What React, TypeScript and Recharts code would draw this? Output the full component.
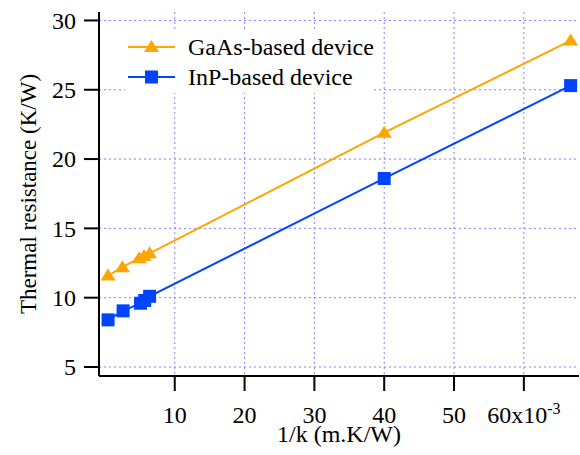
import React from 'react';
import { LineChart, Line, XAxis, YAxis, CartesianGrid, Legend } from 'recharts';

// x values are in units of 1e-3 m.K/W
const gaasX = [0.45, 2.5, 4.9, 5.6, 6.4, 40, 66.7];
const gaasY = [11.6, 12.2, 12.85, 13.0, 13.2, 21.9, 28.55];
const inpX = [0.45, 2.6, 5.1, 5.7, 6.4, 40, 66.7];
const inpY = [8.4, 9.05, 9.6, 9.8, 10.1, 18.6, 25.3];

const xTicks = [10, 20, 30, 40, 50, 60];
const yTicks = [5, 10, 15, 20, 25, 30];

const seriesNames = ['GaAs-based device', 'InP-based device'];
const ORANGE = '#ffa500';
const BLUE = '#0044ff';
const FONT = '"Liberation Serif", "Times New Roman", serif';

const gaas = gaasX.map((x, i) => ({ x, y: gaasY[i] }));
const inp = inpX.map((x, i) => ({ x, y: inpY[i] }));

const Triangle = (props: any) => {
  const { cx, cy } = props;
  if (cx == null || cy == null) return null;
  return <polygon points={`${cx},${cy - 7} ${cx + 7.5},${cy + 5} ${cx - 7.5},${cy + 5}`} fill={ORANGE} />;
};

const Square = (props: any) => {
  const { cx, cy } = props;
  if (cx == null || cy == null) return null;
  return <rect x={cx - 6.5} y={cy - 6.5} width={13} height={13} fill={BLUE} />;
};

const XTick = (props: any) => {
  const { x, y, payload } = props;
  const last = payload.value === 60;
  return (
    <text x={x} y={y} dy="0.71em" textAnchor="middle" fontSize={24} fontFamily={FONT} fill="#000">
      {last ? '60x10' : payload.value}
      {last && <tspan dy="-0.55em" fontSize={16}>-3</tspan>}
    </text>
  );
};

const YTick = (props: any) => {
  const { x, y, payload } = props;
  return (
    <text x={x} y={y} dy="0.35em" textAnchor="end" fontSize={24} fontFamily={FONT} fill="#000">
      {payload.value}
    </text>
  );
};

const YLabel = (props: any) => {
  const { viewBox } = props;
  const cx = viewBox.x + 28;
  const cy = viewBox.y + viewBox.height / 2;
  return (
    <text x={cx} y={cy} transform={`rotate(-90, ${cx}, ${cy})`} textAnchor="middle" dominantBaseline="central"
      fontSize={23} fontFamily={FONT} fill="#000">
      Thermal resistance (K/W)
    </text>
  );
};

const XLabel = (props: any) => {
  const { viewBox } = props;
  const cx = viewBox.x + viewBox.width / 2;
  return (
    <text x={cx} y={viewBox.y + 66} textAnchor="middle" fontSize={24} fontFamily={FONT} fill="#000">
      1/k (m.K/W)
    </text>
  );
};

const LegendBox = () => (
  <div style={{ background: '#fff', width: 248, height: 61, fontFamily: FONT, fontSize: 24, color: '#000' }}>
    {seriesNames.map((name, i) => (
      <div key={name} style={{ display: 'flex', alignItems: 'center', height: 30, marginTop: i === 0 ? 1 : 0 }}>
        <svg width={60} height={20} style={{ marginLeft: 3, flex: 'none' }}>
          <line x1={0} y1={10} x2={47} y2={10} stroke={i === 0 ? ORANGE : BLUE} strokeWidth={2} />
          {i === 0 ? (
            <polygon points="23.5,3 31,15 16,15" fill={ORANGE} />
          ) : (
            <rect x={17} y={3.5} width={13} height={13} fill={BLUE} />
          )}
        </svg>
        <span style={{ lineHeight: '30px', whiteSpace: 'nowrap' }}>{name}</span>
      </div>
    ))}
  </div>
);

export default function App() {
  return (
    <div style={{ position: 'absolute', left: 0, top: 0, width: 580, height: 455, background: '#fff' }}>
      <LineChart width={580} height={455} margin={{ top: 12, right: 1, bottom: 0, left: 0 }}>
        <CartesianGrid stroke="#7f7fff" strokeDasharray="2 3" verticalValues={xTicks} horizontalValues={yTicks} />
        <XAxis
          type="number"
          dataKey="x"
          domain={[-0.85, 67.9]}
          ticks={xTicks}
          allowDataOverflow
          height={79}
          tickSize={15}
          tickMargin={15}
          tick={<XTick />}
          axisLine={{ stroke: '#000', strokeWidth: 2 }}
          tickLine={{ stroke: '#000', strokeWidth: 2 }}
          label={<XLabel />}
        />
        <XAxis xAxisId="top" type="number" orientation="top" domain={[-0.85, 67.9]} height={0} tick={false} tickLine={false}
          axisLine={{ stroke: '#000', strokeWidth: 2 }} />
        <YAxis
          type="number"
          domain={[4.35, 30.61]}
          ticks={yTicks}
          allowDataOverflow
          width={99}
          tickSize={15}
          tickMargin={8}
          tick={<YTick />}
          axisLine={{ stroke: '#000', strokeWidth: 2 }}
          tickLine={{ stroke: '#000', strokeWidth: 2 }}
          label={<YLabel />}
        />
        <YAxis yAxisId="right" type="number" orientation="right" domain={[4.35, 30.61]} width={0} tick={false} tickLine={false}
          axisLine={{ stroke: '#000', strokeWidth: 2 }} />
        <Legend
          layout="vertical"
          align="center"
          verticalAlign="middle"
          content={<LegendBox />}
          wrapperStyle={{ position: 'absolute', left: 125, top: 31, width: 248, height: 61 }}
        />
        <Line data={gaas} dataKey="y" name={seriesNames[0]} stroke={ORANGE} strokeWidth={2} dot={<Triangle />}
          isAnimationActive={false} />
        <Line data={inp} dataKey="y" name={seriesNames[1]} stroke={BLUE} strokeWidth={2} dot={<Square />}
          isAnimationActive={false} />
      </LineChart>
    </div>
  );
}
